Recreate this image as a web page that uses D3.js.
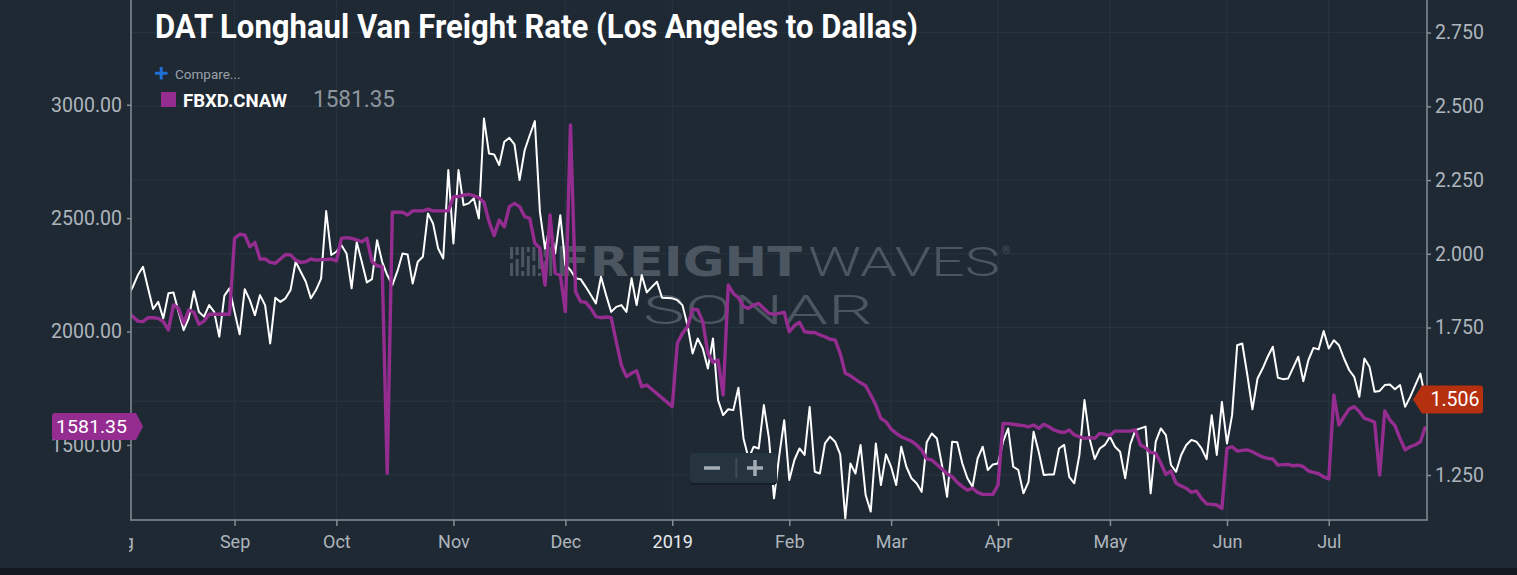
<!DOCTYPE html>
<html>
<head>
<meta charset="utf-8">
<script src="https://cdn.jsdelivr.net/npm/d3@7"></script>
<style>
  html, body { margin: 0; padding: 0; background: #12181e; }
  svg { display: block; }
  text { font-family: Roboto, "Noto Sans", sans-serif; }
</style>
</head>
<body>
<svg id="chart" width="1517" height="575"></svg>
<script>
// trading days shown on the (ordinal) time axis
const firstDay = '2018-08-03';
const lastDay = '2019-07-26';

const monthLabels = ['Aug', 'Sep', 'Oct', 'Nov', 'Dec', '2019', 'Feb', 'Mar', 'Apr', 'May', 'Jun', 'Jul'];

const leftTicks = [1500, 2000, 2500, 3000];
const rightTicks = [1.25, 1.5, 1.75, 2.0, 2.25, 2.5, 2.75];

// DAT longhaul van rate LA -> Dallas ($/mile), right axis
const datRate = [
  1.854, 1.888, 1.928, 1.956, 1.883, 1.813, 1.837, 1.781, 1.866, 1.869, 1.803, 1.741, 1.781, 1.873, 1.803, 1.787, 1.826, 1.803, 1.719, 1.858, 1.883,
  1.803, 1.727, 1.880, 1.843, 1.792, 1.860, 1.826, 1.696, 1.851, 1.837, 1.849, 1.877, 1.973, 1.939, 1.905, 1.849, 1.877, 1.916, 2.145, 1.996,
  2.007, 2.029, 2.001, 1.883, 2.039, 1.973, 1.903, 1.914, 2.046, 1.973, 1.928, 1.894, 1.941, 2.001, 1.998, 1.899, 1.973, 1.990, 2.137, 2.103, 2.018, 1.984, 2.284,
  2.035, 2.284, 2.165, 2.171, 2.188, 2.120, 2.459, 2.340, 2.337, 2.301, 2.380, 2.393, 2.371, 2.250, 2.351, 2.402, 2.450, 2.142, 2.018, 2.097, 2.001, 2.131,
  1.962, 1.945, 1.917, 1.914, 1.888, 1.860, 1.832, 1.922, 1.860, 1.803, 1.820, 1.826, 1.803, 1.917, 1.826, 1.928, 1.869, 1.888, 1.905, 1.851, 1.850,
  1.849, 1.843, 1.826, 1.758, 1.662, 1.713, 1.679, 1.611, 1.713, 1.504, 1.453, 1.473, 1.470, 1.546, 1.374, 1.306, 1.346, 1.340, 1.487, 1.374, 1.171, 1.312, 1.436,
  1.233, 1.301, 1.340, 1.318, 1.481, 1.261, 1.255, 1.357, 1.380, 1.363, 1.320, 1.103, 1.289, 1.255, 1.352, 1.182, 1.126, 1.357, 1.216, 1.320,
  1.278, 1.216, 1.346, 1.278, 1.239, 1.222, 1.193, 1.361, 1.391, 1.374, 1.284, 1.176, 1.363, 1.361, 1.289, 1.239, 1.210, 1.306, 1.346, 1.267, 1.286,
  1.289, 1.363, 1.408, 1.278, 1.267, 1.188, 1.227, 1.397, 1.329, 1.250, 1.252, 1.252, 1.340, 1.352, 1.244, 1.222, 1.318, 1.504, 1.374, 1.304, 1.340, 1.352,
  1.380, 1.346, 1.329, 1.239, 1.354, 1.402, 1.408, 1.414, 1.188, 1.363, 1.408, 1.385, 1.284, 1.261, 1.318, 1.352, 1.369, 1.363, 1.340, 1.304, 1.453, 1.318, 1.498,
  1.357, 1.453, 1.690, 1.696, 1.589, 1.473, 1.577, 1.611, 1.651, 1.685, 1.580, 1.575, 1.577, 1.614, 1.651, 1.568, 1.640, 1.681, 1.676, 1.738,
  1.679, 1.707, 1.690, 1.645, 1.606, 1.583, 1.515, 1.645, 1.617, 1.532, 1.535, 1.555, 1.557, 1.541, 1.555, 1.481, 1.515, 1.555, 1.594, 1.506
];

// FBXD.CNAW, left axis (null = no print)
const fbxdRate = [
  2085, 2066, 2046, 2044, 2061, 2061, 2058, 2044, 2007, 2117, 2102, 2036, 2095, 2085, 2032, 2046, 2076, 2076, 2076, 2076, 2076,
  2411, 2429, 2426, 2374, 2393, 2320, 2320, 2305, 2301, 2320, 2340, 2338, 2315, 2305, 2308, 2320, 2315, 2317, 2318, 2320,
  2311, 2411, 2414, 2411, 2404, 2396, 2411, 2308, 2290, 2286, 1375, 2526, 2526, 2526, 2514, 2532, 2532, 2532, 2540, 2532, 2532, 2532, 2532,
  2595, 2595, 2602, 2605, 2599, 2590, 2570, 2485, 2423, 2492, 2462, 2551, 2565, 2551, 2507, 2499, 2389, 2367, 2205, 2514, 2257, 2249,
  2088, 2911, 2176, 2132, 2129, 2102, 2066, 2061, 2064, 2061, 1955, 1852, 1801, 1816, 1827, 1757, 1764, null, null, null, null,
  1669, 1948, 1992, 2021, 2099, 2095, 2044, 1904, 1864, 1874, 1720, 2205, 2168, 2149, 2110, 2102, 2117, 2124, 2102, 2080, 2076, 2080, 2085,
  1999, 2026, 2041, 1999, 1996, 1996, 1985, 1977, 1966, 1963, 1904, 1816, 1805, 1789, 1774, 1761, 1720, 1676, 1617, 1602,
  1570, 1551, 1536, 1526, 1517, 1500, 1478, 1438, 1434, 1414, 1394, 1373, 1360, 1335, 1316, 1301, 1309, 1291, 1282, 1282, 1282,
  1323, 1595, 1594, 1591, 1588, 1585, 1580, 1588, 1573, 1591, 1580, 1566, 1558, 1555, 1566, 1544, 1536, 1529, 1532, 1529, 1551, 1547,
  1541, 1561, 1561, 1561, 1561, 1566, 1500, 1488, 1467, 1463, 1419, 1370, 1385, 1331, 1319, 1309, 1291, 1297, 1264, 1240, 1238, 1235, 1220,
  1485, 1492, 1473, 1476, 1478, 1470, 1458, 1447, 1441, 1438, 1411, 1413, 1414, 1408, 1411, 1404, 1385, 1379, 1373, 1359,
  1350, 1720, 1588, 1625, 1658, 1669, 1647, 1617, 1610, 1600, 1367, 1650, 1610, 1585, 1529, 1478, 1492, 1501, 1514, 1581.35
];

const width = 1517;
const plot = { left: 131, right: 1427, top: 0, bottom: 520 };

const parseDay = d3.utcParse('%Y-%m-%d');
const isWeekday = d => d.getUTCDay() !== 0 && d.getUTCDay() !== 6;
const days = d3.utcDay.range(parseDay(firstDay), d3.utcDay.offset(parseDay(lastDay), 1)).filter(isWeekday);

// month ticks sit on the first trading day of each month
const monthStarts = d3.utcMonth.range(d3.utcMonth.floor(days[0]), days[days.length - 1]);
const monthIndex = monthStarts.map(m => {
    const i = d3.bisectLeft(days, m);
    return i > 0 ? i : -d3.utcDay.range(m, days[0]).filter(isWeekday).length;
});

const x = d3.scaleLinear().domain([0.65, days.length - 0.7]).range([plot.left, plot.right]);
const yLeft = d3.scaleLinear().domain([1169, 3462]).range([plot.bottom, plot.top]);
const yRight = d3.scaleLinear().domain([1.0975, 2.8605]).range([plot.bottom, plot.top]);

const lastFbxd = fbxdRate[fbxdRate.length - 1];
const lastDat = datRate[datRate.length - 1];

const svg = d3.select('#chart');

svg.append('rect').attr('width', width).attr('height', 568).attr('fill', '#1e2934');

const defs = svg.append('defs');
defs.append('clipPath').attr('id', 'plotClip')
    .append('rect')
    .attr('x', plot.left).attr('y', plot.top)
    .attr('width', plot.right - plot.left).attr('height', plot.bottom - plot.top);
defs.append('clipPath').attr('id', 'xClip')
    .append('rect').attr('x', 129).attr('y', plot.bottom).attr('width', width).attr('height', 60);

// grid
svg.append('g')
    .selectAll('line')
    .data(rightTicks)
    .enter()
    .append('line')
    .attr('x1', plot.left).attr('x2', plot.right)
    .attr('y1', d => yRight(d)).attr('y2', d => yRight(d))
    .attr('stroke', '#283541').attr('stroke-width', 1);

svg.append('g')
    .selectAll('line')
    .data(monthIndex.filter(i => x(i) > plot.left))
    .enter()
    .append('line')
    .attr('x1', d => x(d)).attr('x2', d => x(d))
    .attr('y1', plot.top).attr('y2', plot.bottom)
    .attr('stroke', '#283541').attr('stroke-width', 1);

// watermark
const mark = svg.append('g').attr('fill', '#4b5661');
const bars = [[0, 0, 12, 16, 29], [1, 0, 8, 12, 29], [2, 0, 20, 24, 29], [3, 0, 5, 9, 29], [4, 0, 14, 18, 29], [5, 0, 22, 26, 29], [6, 0, 10, 14, 29], [7, 0, 29, 29, 29]];
bars.forEach(b => {
    mark.append('rect').attr('x', 510 + b[0] * 5.6).attr('y', 247 + b[1]).attr('width', 3).attr('height', b[2] - b[1]);
    if (b[3] < b[4]) {
        mark.append('rect').attr('x', 510 + b[0] * 5.6).attr('y', 247 + b[3]).attr('width', 3).attr('height', b[4] - b[3]);
    }
});
mark.append('text').text('FREIGHT')
    .attr('x', 555).attr('y', 276)
    .attr('textLength', 247).attr('lengthAdjust', 'spacingAndGlyphs')
    .style('font-family', '"DejaVu Sans", sans-serif').style('font-weight', 'bold').style('font-size', '40px');
mark.append('text').text('WAVES')
    .attr('x', 808).attr('y', 276)
    .attr('textLength', 192).attr('lengthAdjust', 'spacingAndGlyphs')
    .style('font-weight', 300).style('font-size', '41px');
mark.append('text').text('®')
    .attr('x', 1002).attr('y', 254).style('font-size', '10px');
mark.append('text').text('SONAR')
    .attr('x', 643).attr('y', 324)
    .attr('textLength', 230).attr('lengthAdjust', 'spacingAndGlyphs')
    .style('font-weight', 300).style('font-size', '41px');

// series
const lines = svg.append('g').attr('clip-path', 'url(#plotClip)');

const datLine = d3.line()
    .x(d => x(d.i))
    .y(d => yRight(d.v));

const fbxdLine = d3.line()
    .x(d => x(d.i))
    .y(d => yLeft(d.v));

lines.append('path')
    .datum(datRate.map((v, i) => ({ i, v })).filter(d => d.v != null))
    .attr('d', datLine)
    .attr('fill', 'none')
    .attr('stroke', '#ffffff')
    .attr('stroke-width', 2)
    .attr('stroke-linejoin', 'round');

lines.append('path')
    .datum(fbxdRate.map((v, i) => ({ i, v })).filter(d => d.v != null))
    .attr('d', fbxdLine)
    .attr('fill', 'none')
    .attr('stroke', '#952c90')
    .attr('stroke-width', 3.4)
    .attr('stroke-linejoin', 'round');

// axes
const axisColor = '#858e96';
const labelColor = '#aeb5bc';

const leftAxis = svg.append('g')
    .attr('transform', 'translate(' + plot.left + ',0)')
    .call(d3.axisLeft(yLeft).tickValues(leftTicks).tickFormat(d3.format('.2f')).tickSize(4).tickPadding(5));

const rightAxis = svg.append('g')
    .attr('transform', 'translate(' + plot.right + ',0)')
    .call(d3.axisRight(yRight).tickValues(rightTicks).tickFormat(d3.format('.3f')).tickSize(4).tickPadding(4));

const bottomAxis = svg.append('g')
    .attr('clip-path', 'url(#xClip)')
    .append('g')
    .attr('transform', 'translate(0,' + plot.bottom + ')')
    .call(d3.axisBottom(x).tickValues(monthIndex).tickFormat((d, i) => monthLabels[i]).tickSize(6).tickPadding(9));

[leftAxis, rightAxis, bottomAxis].forEach(axis => {
    axis.select('.domain').remove();
    axis.selectAll('.tick line').attr('stroke', axisColor).attr('stroke-width', 1.5);
    axis.selectAll('.tick text')
        .attr('fill', labelColor)
        .style('font-family', 'Roboto, sans-serif')
        .style('font-size', '19.5px');
});
bottomAxis.selectAll('.tick text')
    .style('font-size', '18px')
    .attr('fill', (d, i) => monthLabels[i] === '2019' ? '#e9ecef' : labelColor);

// the last-value tag hides the right tick label it sits on
const tr = yRight(lastDat);
rightAxis.selectAll('.tick text').filter(d => Math.abs(yRight(d) - tr) < 14).remove();

svg.append('line')
    .attr('x1', plot.left).attr('x2', plot.left)
    .attr('y1', plot.top).attr('y2', plot.bottom + 0.75)
    .attr('stroke', axisColor).attr('stroke-width', 1.5);
svg.append('line')
    .attr('x1', plot.right).attr('x2', plot.right)
    .attr('y1', plot.top).attr('y2', plot.bottom + 0.75)
    .attr('stroke', axisColor).attr('stroke-width', 1.5);
svg.append('line')
    .attr('x1', plot.left).attr('x2', plot.right)
    .attr('y1', plot.bottom).attr('y2', plot.bottom)
    .attr('stroke', axisColor).attr('stroke-width', 1.5);

// title + legend
svg.append('text')
    .text('DAT Longhaul Van Freight Rate (Los Angeles to Dallas)')
    .attr('x', 155).attr('y', 38)
    .attr('textLength', 763).attr('lengthAdjust', 'spacingAndGlyphs')
    .attr('fill', '#ffffff')
    .style('font-weight', 'bold').style('font-size', '34px');

svg.append('path')
    .attr('d', 'M155,73.3 H167.5 M161.2,67 V79.6')
    .attr('stroke', '#1f6fd6').attr('stroke-width', 3);
svg.append('text').text('Compare...')
    .attr('x', 175).attr('y', 78.5)
    .attr('fill', '#9aa2aa').style('font-size', '13.5px');

svg.append('rect')
    .attr('x', 161).attr('y', 92).attr('width', 15).attr('height', 15)
    .attr('fill', '#952c90');
svg.append('text').text('FBXD.CNAW')
    .attr('x', 183).attr('y', 106.5)
    .attr('textLength', 104).attr('lengthAdjust', 'spacingAndGlyphs')
    .attr('fill', '#ffffff').style('font-weight', 'bold').style('font-size', '18.5px');
svg.append('text').text(d3.format('.2f')(lastFbxd))
    .attr('x', 313).attr('y', 107.3)
    .attr('textLength', 82).attr('lengthAdjust', 'spacingAndGlyphs')
    .attr('fill', '#8d959c').style('font-size', '23px');

// last value tags
const tl = yLeft(lastFbxd);
svg.append('path')
    .attr('d', 'M55,' + (tl - 13.5) + ' H136 L143,' + tl + ' L136,' + (tl + 13.5) + ' H55 Q52,' + (tl + 13.5) + ' 52,' + (tl + 10.5) +
        ' V' + (tl - 10.5) + ' Q52,' + (tl - 13.5) + ' 55,' + (tl - 13.5) + ' Z')
    .attr('fill', '#952c90');
svg.append('text').text(d3.format('.2f')(lastFbxd))
    .attr('x', 56).attr('y', tl + 6.8)
    .attr('textLength', 71).attr('lengthAdjust', 'spacingAndGlyphs')
    .attr('fill', '#ffffff').style('font-size', '19px');

svg.append('path')
    .attr('d', 'M1413,' + tr + ' L1422,' + (tr - 14) + ' H1480 Q1483,' + (tr - 14) + ' 1483,' + (tr - 11) +
        ' V' + (tr + 11) + ' Q1483,' + (tr + 14) + ' 1480,' + (tr + 14) + ' H1422 Z')
    .attr('fill', '#b5300f');
svg.append('text').text(d3.format('.3f')(lastDat))
    .attr('x', 1455).attr('y', tr + 6.8)
    .attr('text-anchor', 'middle')
    .attr('fill', '#ffffff').style('font-size', '19.5px');

// zoom buttons
const zoomCtl = svg.append('g');
zoomCtl.append('rect')
    .attr('x', 690).attr('y', 455).attr('width', 87).attr('height', 30).attr('rx', 4)
    .attr('fill', '#151d25');
zoomCtl.append('rect')
    .attr('x', 690).attr('y', 453).attr('width', 87).attr('height', 30).attr('rx', 4)
    .attr('fill', '#263440');
zoomCtl.append('path')
    .attr('d', 'M704,468 H720 M747,468 H763 M755,460 V476')
    .attr('stroke', '#a4acb3').attr('stroke-width', 3.5);
zoomCtl.append('line')
    .attr('x1', 736.3).attr('x2', 736.3).attr('y1', 458).attr('y2', 478)
    .attr('stroke', '#3e4b56').attr('stroke-width', 2);

svg.append('rect').attr('y', 568).attr('width', width).attr('height', 7).attr('fill', '#12181e');
</script>
</body>
</html>
